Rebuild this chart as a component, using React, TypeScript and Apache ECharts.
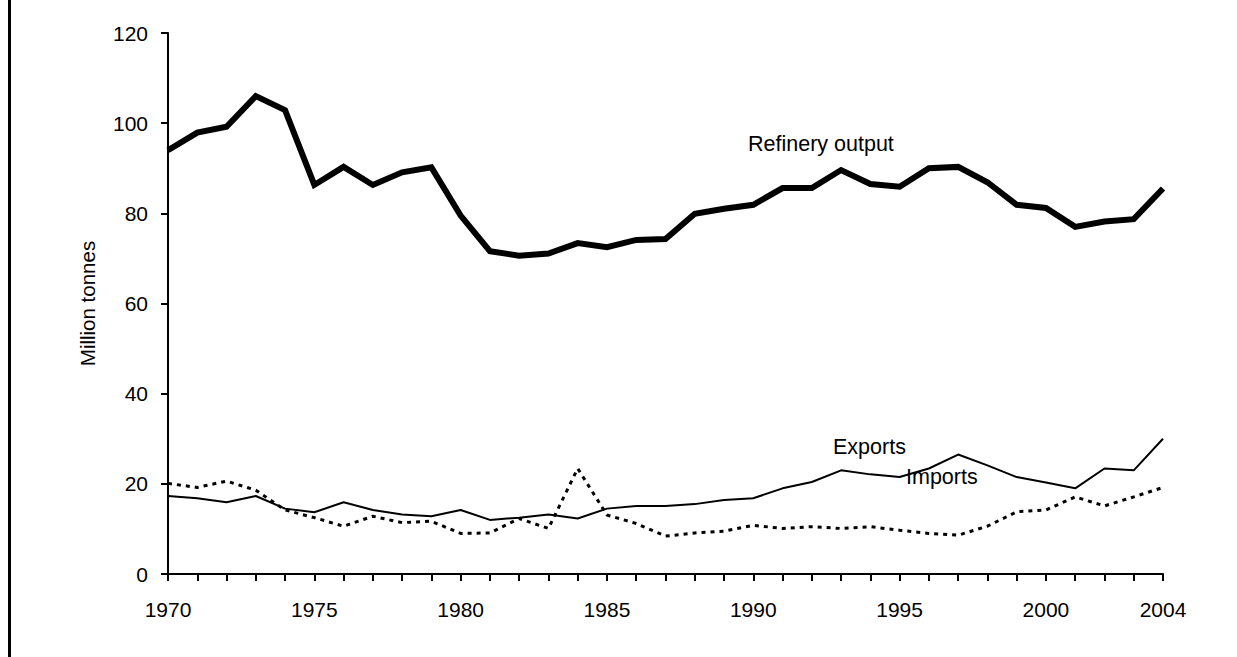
import React, { useEffect, useRef } from "react";
import * as echarts from "echarts";

const years: string[] = [];
for (let y = 1970; y <= 2004; y++) years.push(String(y));

const refineryOutput = [
  94.0, 97.9, 99.2, 106.0, 102.9, 86.3, 90.3, 86.3, 89.1, 90.2,
  79.5, 71.6, 70.6, 71.1, 73.4, 72.5, 74.1, 74.3, 79.9, 81.0,
  81.9, 85.6, 85.6, 89.6, 86.5, 85.9, 90.0, 90.3, 86.9, 81.9,
  81.2, 77.0, 78.2, 78.7, 85.5,
];

const exportsData = [
  17.3, 16.8, 15.9, 17.3, 14.5, 13.7, 15.9, 14.2, 13.2, 12.8,
  14.2, 12.0, 12.5, 13.2, 12.3, 14.5, 15.1, 15.1, 15.5, 16.4,
  16.8, 19.0, 20.4, 23.0, 22.1, 21.5, 23.4, 26.5, 24.1, 21.5,
  20.3, 19.0, 23.4, 23.0, 30.0,
];

const importsData = [
  20.1, 19.2, 20.6, 18.6, 14.2, 12.5, 10.6, 12.8, 11.4, 11.7,
  9.0, 9.1, 12.3, 10.1, 23.4, 13.1, 11.2, 8.4, 9.1, 9.5,
  10.8, 10.1, 10.5, 10.1, 10.5, 9.7, 9.0, 8.6, 10.6, 13.8,
  14.2, 17.1, 15.1, 17.1, 19.2,
];

const shownYearLabels = ["1970", "1975", "1980", "1985", "1990", "1995", "2000", "2004"];

const FONT = "'Liberation Sans', Arial, sans-serif";

export default function App() {
  const ref = useRef<HTMLDivElement>(null);
  useEffect(() => {
    document.body.style.margin = "0";
    const chart = echarts.init(ref.current!, null, { renderer: "svg" });
    chart.setOption({
      animation: false,
      backgroundColor: "#ffffff",
      textStyle: { fontFamily: FONT },
      grid: { left: 168, right: 74, top: 33, bottom: 83 },
      xAxis: {
        type: "category",
        data: years,
        boundaryGap: false,
        axisLine: { lineStyle: { color: "#000", width: 2 } },
        axisTick: { interval: 0, length: 7, lineStyle: { color: "#000", width: 2 } },
        axisLabel: {
          interval: (_i: number, v: string) => shownYearLabels.includes(v),
          color: "#000",
          fontSize: 21,
          fontFamily: FONT,
          margin: 25,
        },
        splitLine: { show: false },
      },
      yAxis: {
        type: "value",
        min: 0,
        max: 120,
        interval: 20,
        name: "Million tonnes",
        nameLocation: "middle",
        nameRotate: 90,
        nameGap: 70,
        nameTextStyle: { color: "#000", fontSize: 20.5, fontFamily: FONT },
        axisLine: { show: true, lineStyle: { color: "#000", width: 2 } },
        axisTick: { show: true, length: 7, lineStyle: { color: "#000", width: 2 } },
        axisLabel: { color: "#000", fontSize: 21, fontFamily: FONT, margin: 20 },
        splitLine: { show: false },
      },
      series: [
        {
          name: "Refinery output",
          type: "line",
          data: refineryOutput,
          symbol: "none",
          lineStyle: { color: "#000", width: 6, join: "miter" },
        },
        {
          name: "Exports",
          type: "line",
          data: exportsData,
          symbol: "none",
          lineStyle: { color: "#000", width: 2 },
        },
        {
          name: "Imports",
          type: "line",
          data: importsData,
          symbol: "none",
          lineStyle: { color: "#000", width: 3, type: [4, 5] },
        },
      ],
      graphic: [
        { type: "rect", shape: { x: 8, y: 0, width: 3, height: 657 }, style: { fill: "#000" } },
        {
          type: "text",
          x: 748,
          y: 144,
          style: { text: "Refinery output", fill: "#000", fontSize: 21.5, fontFamily: FONT, verticalAlign: "middle" },
        },
        {
          type: "text",
          x: 833,
          y: 447,
          style: { text: "Exports", fill: "#000", fontSize: 21.5, fontFamily: FONT, verticalAlign: "middle" },
        },
        {
          type: "text",
          x: 906,
          y: 477,
          style: { text: "Imports", fill: "#000", fontSize: 21.5, fontFamily: FONT, verticalAlign: "middle" },
        },
      ],
    });
    return () => chart.dispose();
  }, []);
  return <div ref={ref} style={{ position: "absolute", left: 0, top: 0, width: 1237, height: 657 }} />;
}
